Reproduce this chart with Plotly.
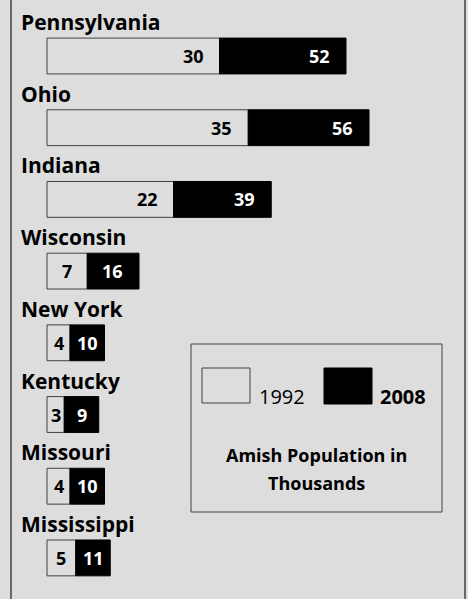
import plotly.graph_objects as go

# ---- data ----
states = ["Pennsylvania", "Ohio", "Indiana", "Wisconsin", "New York",
          "Kentucky", "Missouri", "Mississippi"]
pop_1992 = [30, 35, 22, 7, 4, 3, 4, 5]
pop_2008 = [52, 56, 39, 16, 10, 9, 10, 11]
legend_labels = ["1992", "2008"]
legend_title = ["Amish Population in", "Thousands"]

# ---- style ----
W, H = 468, 599
BG = "#dddddd"
EDGE = "#404040"
FONT = "'Open Sans', Lato, sans-serif"
X0_PX = 47.0          # pixel where value 0 sits
PX_PER_UNIT = 5.75    # horizontal scale
ROW_PX = 71.7         # vertical pitch of rows
FIRST_ROW_PX = 56.0   # centre of first bar from top
BAR_W = 0.5
PAD = 14

idx = list(range(len(states)))
growth = [b - a for a, b in zip(pop_1992, pop_2008)]

fig = go.Figure()
fig.add_trace(go.Bar(
    y=idx, x=pop_1992, orientation="h", width=BAR_W,
    marker=dict(color="rgba(0,0,0,0)", line=dict(color=EDGE, width=1)),
    hoverinfo="skip", showlegend=False))
fig.add_trace(go.Bar(
    y=idx, x=growth, base=pop_1992, orientation="h", width=BAR_W,
    marker=dict(color="#000000", line=dict(color="#000000", width=1)),
    hoverinfo="skip", showlegend=False))

annotations = []
def seg_label(x_start, x_end, val, yi, color):
    seg_px = (x_end - x_start) * PX_PER_UNIT
    if seg_px < 50:
        annotations.append(dict(x=(x_start + x_end) / 2, y=yi, xref="x", yref="y",
                                text=f"<b>{val}</b>", showarrow=False,
                                xanchor="center", yanchor="middle",
                                font=dict(family=FONT, size=18, color=color)))
    else:
        annotations.append(dict(x=x_end, y=yi, xref="x", yref="y",
                                text=f"<b>{val}</b>", showarrow=False,
                                xanchor="right", yanchor="middle", xshift=-PAD,
                                font=dict(family=FONT, size=18, color=color)))

for i, (s, a, b) in enumerate(zip(states, pop_1992, pop_2008)):
    seg_label(0, a, a, i, "#000000")
    seg_label(a, b, b, i, "#ffffff")
    annotations.append(dict(x=19 / W, y=i, xref="paper", yref="y",
                            text=f"<b>{s}</b>", showarrow=False,
                            xanchor="left", yanchor="middle", yshift=34,
                            font=dict(family=FONT, size=21, color="#000000")))

def px(x):
    return x / W

def py(y):
    return 1 - y / H

shapes = [
    # outer frame sides
    dict(type="line", xref="paper", yref="paper", x0=px(11), x1=px(11), y0=0, y1=1,
         line=dict(color=EDGE, width=1.5)),
    dict(type="line", xref="paper", yref="paper", x0=px(465), x1=px(465), y0=0, y1=1,
         line=dict(color=EDGE, width=1.5)),
    # legend box
    dict(type="rect", xref="paper", yref="paper", x0=px(191), x1=px(442),
         y0=py(512), y1=py(344), line=dict(color=EDGE, width=1), fillcolor="rgba(0,0,0,0)"),
    # legend swatches
    dict(type="rect", xref="paper", yref="paper", x0=px(202), x1=px(250),
         y0=py(403), y1=py(368), line=dict(color=EDGE, width=1), fillcolor="rgba(0,0,0,0)"),
    dict(type="rect", xref="paper", yref="paper", x0=px(324), x1=px(372),
         y0=py(404), y1=py(368), line=dict(color="#000000", width=1), fillcolor="#000000"),
]

annotations += [
    dict(x=px(257), y=py(396), xref="paper", yref="paper", text=legend_labels[0],
         showarrow=False, xanchor="left", yanchor="middle",
         font=dict(family=FONT, size=20, color="#000000")),
    dict(x=px(378), y=py(396), xref="paper", yref="paper", text=f"<b>{legend_labels[1]}</b>",
         showarrow=False, xanchor="left", yanchor="middle",
         font=dict(family=FONT, size=20, color="#000000")),
    dict(x=px(316), y=py(455), xref="paper", yref="paper", text=f"<b>{legend_title[0]}</b>",
         showarrow=False, xanchor="center", yanchor="middle",
         font=dict(family=FONT, size=18, color="#000000")),
    dict(x=px(316), y=py(483), xref="paper", yref="paper", text=f"<b>{legend_title[1]}</b>",
         showarrow=False, xanchor="center", yanchor="middle",
         font=dict(family=FONT, size=18, color="#000000")),
]

fig.update_layout(
    width=W, height=H, margin=dict(l=0, r=0, t=0, b=0),
    paper_bgcolor=BG, plot_bgcolor=BG,
    barmode="overlay",
    xaxis=dict(range=[-X0_PX / PX_PER_UNIT, (W - X0_PX) / PX_PER_UNIT],
               visible=False, fixedrange=True),
    yaxis=dict(range=[(H - FIRST_ROW_PX) / ROW_PX, -FIRST_ROW_PX / ROW_PX],
               visible=False, fixedrange=True),
    shapes=shapes, annotations=annotations,
)

fig.write_html("out.html", config={"displayModeBar": False},
               post_script="document.body.style.margin='0';document.body.style.overflow='hidden';")
